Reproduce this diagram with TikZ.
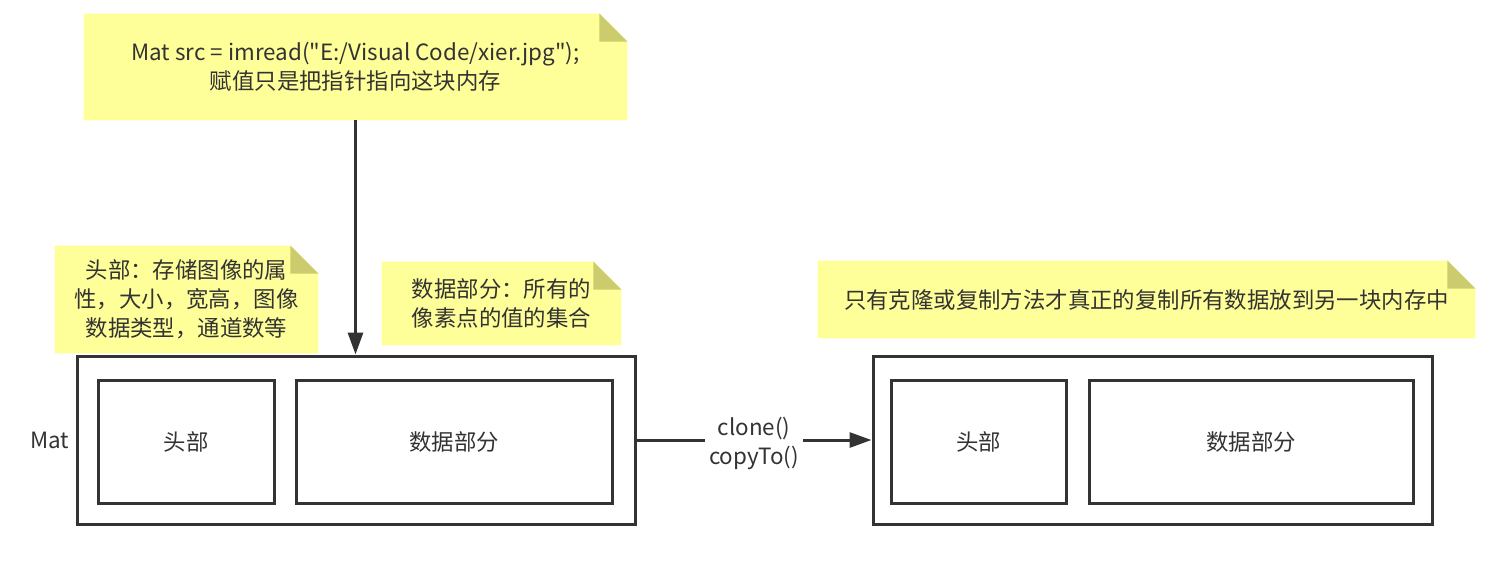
\documentclass[tikz,border=0pt]{standalone}
\usepackage{fontspec}
\setmainfont{Noto Sans CJK SC}
\usepackage{tikz}
\usetikzlibrary{arrows.meta,positioning,calc,backgrounds}
\definecolor{noteYellow}{HTML}{FFFF99}
\definecolor{noteFold}{HTML}{CCCC6E}
\definecolor{inkGray}{HTML}{333333}

\begin{document}
\begin{tikzpicture}[x=0.5pt,y=-0.5pt,font=\fontsize{11.2pt}{14.5pt}\selectfont,text=inkGray,
  note/.style={inner sep=0pt,align=center},
  memBox/.style={draw=inkGray,line width=1.5pt,inner sep=0pt},
  link/.style={draw=inkGray,line width=1.5pt,-{Triangle[length=11pt,width=7.5pt]}}]
\useasboundingbox (0,0) rectangle (1495,564);
% folded note behind a node: yellow body, darker corner
\def\fold{14pt}
\newcommand{\notebg}[1]{%
  \begin{scope}[on background layer]
  \fill[noteYellow] (#1.south west) -- (#1.north west) -- ($(#1.north east)+(-\fold,0)$)
    -- ($(#1.north east)+(0,-\fold)$) -- (#1.south east) -- cycle;
  \fill[noteFold] ($(#1.north east)+(-\fold,0)$) -- ($(#1.north east)+(0,-\fold)$)
    -- ($(#1.north east)+(-\fold,-\fold)$) -- cycle;
  \end{scope}}

% notes
\node[note,minimum width=271.5pt,minimum height=53pt] (srcNote) at (355.5,67)
  {Mat src = imread(\textquotedbl E:/Visual Code/xier.jpg\textquotedbl);\\赋值只是把指针指向这块内存};
\node[note,minimum width=131.5pt,minimum height=53.5pt] (headNote) at (186.5,299.5)
  {头部：存储图像的属\\性，大小，宽高，图像\\数据类型，通道数等};
\node[note,minimum width=119.5pt,minimum height=41.5pt] (dataNote) at (501.5,303.5)
  {数据部分：所有的\\像素点的值的集合};
\node[note,minimum width=328.5pt,minimum height=38.5pt] (copyNote) at (1146.5,299.5)
  {只有克隆或复制方法才真正的复制所有数据放到另一块内存中};
\notebg{srcNote}
\notebg{headNote}
\notebg{dataNote}
\notebg{copyNote}

% source Mat
\node[memBox,minimum width=279pt,minimum height=84pt] (matL) at (356,440) {};
\node[memBox,minimum width=88pt,minimum height=61.5pt] (headL) at (186,441.5) {头部};
\node[memBox,minimum width=158pt,minimum height=61.5pt] (dataL) at (454,441.5) {数据部分};
\node[left=3pt of matL,inner sep=0pt] (matLbl) {Mat};

% copied Mat
\node[memBox,minimum width=279.5pt,minimum height=84pt] (matR) at (1152.5,440) {};
\node[memBox,minimum width=87.5pt,minimum height=61.5pt] (headR) at (978.5,441.5) {头部};
\node[memBox,minimum width=162pt,minimum height=61.5pt] (dataR) at (1251,441.5) {数据部分};

% connectors
\draw[link] (srcNote.south) -- (srcNote.south |- matL.north);
\draw[link] (matL.east) -- (matR.west)
  node[midway,fill=white,align=center,inner sep=2pt,yshift=-1.5pt] (copyLbl) {clone()\\copyTo()};
\end{tikzpicture}
\end{document}
